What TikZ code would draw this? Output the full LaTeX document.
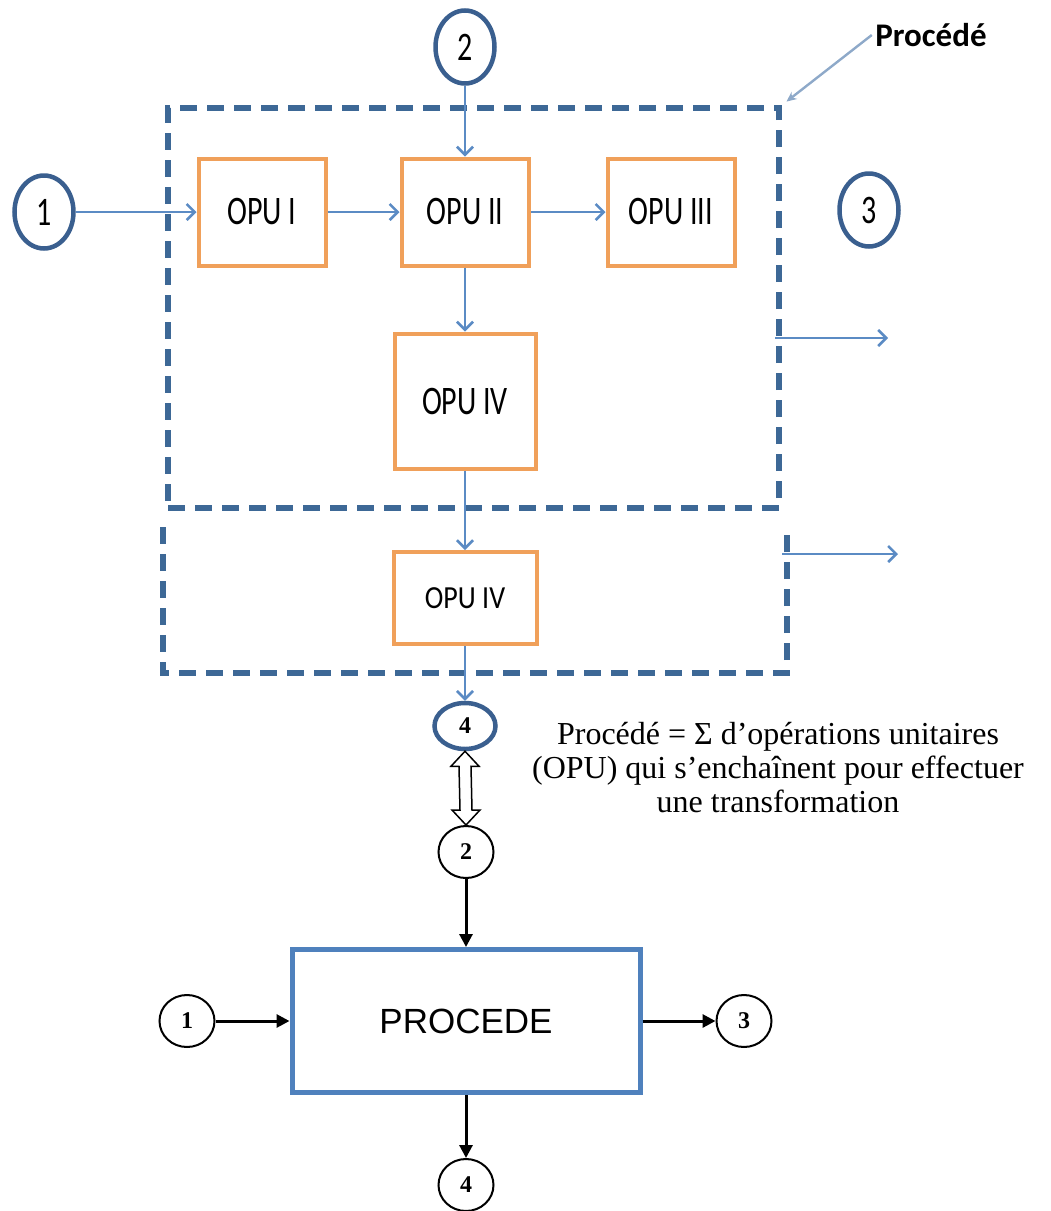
\documentclass[tikz,border=0pt]{standalone}
\usepackage{fontspec}
\usepackage{graphicx}
\setmainfont{Liberation Serif}
\newfontfamily\opufont{Carlito}
\newfontfamily\procfont{Liberation Sans}
\usetikzlibrary{arrows.meta,shapes.geometric,calc}

\definecolor{dashblue}{HTML}{3D6896}
\definecolor{ringblue}{HTML}{3A5F8F}
\definecolor{opuorange}{HTML}{F0A05A}
\definecolor{procblue}{HTML}{4F81BD}
\definecolor{flowblue}{HTML}{5B8BC4}
\definecolor{callgray}{HTML}{8EA9C9}

\newcommand{\opulbl}[1]{\scalebox{1}[1.35]{#1}}

\begin{document}
\begin{tikzpicture}[x=1pt,y=-1pt,
  opubox/.style={draw=opuorange, line width=4pt, minimum width=127pt, minimum height=107pt, inner sep=0pt, font=\opufont\fontsize{30}{36}\selectfont},
  ring/.style={draw=ringblue, line width=4.5pt, ellipse, minimum width=59pt, minimum height=73pt, inner sep=0pt, font=\opufont\fontsize{30}{36}\selectfont},
  bring/.style={draw, line width=2pt, ellipse, minimum width=55pt, minimum height=52pt, inner sep=0pt, font=\bfseries\fontsize{24}{28}\selectfont},
  zone/.style={draw=dashblue, line width=5.5pt, dash pattern=on 17pt off 10pt},
  flow/.style={draw=flowblue, line width=2.6pt, -{Straight Barb[length=8pt,width=16pt]}},
  blk/.style={draw, line width=3pt, -{Triangle[length=13pt,width=13pt]}}]
\useasboundingbox (0,0) rectangle (1051,1211);

% upper part: the process split into unit operations
\node[zone, minimum width=611pt, minimum height=400pt, inner sep=0pt] (zone1) at (473.5,308) {};
\path[zone] (163,527) -- (163,673) -- (787,673) -- (787,527);

\node[ring] (c1) at (44,212) {\opulbl{1}};
\node[ring] (c2) at (465,47) {\opulbl{2}};
\node[ring] (c3) at (869,210) {\opulbl{3}};

\node[opubox] (o1) at (262,212) {\opulbl{OPU I}};
\node[opubox] (o2) at (465,212) {\opulbl{OPU II}};
\node[opubox] (o3) at (671,212) {\opulbl{OPU III}};
\node[opubox, minimum width=141pt, minimum height=135pt] (o4) at (465,401) {\opulbl{OPU IV}};
\node[opubox, minimum width=143pt, minimum height=92pt, font=\opufont\fontsize{28}{34}\selectfont] (o4b) at (465,598) {\scalebox{1}[1.15]{OPU IV}};

\node[ring, minimum width=61pt, minimum height=46pt, font=\bfseries\fontsize{24}{28}\selectfont] (c4) at (465,726) {4};

\draw[flow] (c1) -- (o1);
\draw[flow] (o1) -- (o2);
\draw[flow] (o2) -- (o3);
\draw[flow] (c2) -- (o2);
\draw[flow] (o2) -- (o4);
\draw[flow] (o4) -- (o4b);
\draw[flow] (o4b) -- (c4);

\coordinate (s1) at (775,338);
\coordinate (e1) at (888,338);
\coordinate (s2) at (782,554);
\coordinate (e2) at (898,554);
\draw[flow] (s1) -- (e1);
\draw[flow] (s2) -- (e2);

\node[font=\opufont\bfseries\fontsize{33}{38}\selectfont] (lbl) at (931,35) {Procédé};
\draw[callgray, line width=2.4pt, -{Stealth[length=10pt,width=9pt]}, shorten >=6pt] (lbl.west) -- (zone1.north east);

% lower part: the process as one block
\node[bring] (p2) at (466,852) {2};
\coordinate (dtop) at (c4.south);
\coordinate (dbot) at (p2.north);
\draw[line width=1.5pt, fill=white] (dtop) -- ++(14,15) -- ++(-8,0) -- ($(dbot)+(6,-15)$) -- ++(8,0)
  -- (dbot) -- ++(-14,-15) -- ++(8,0) -- ($(dtop)+(-6,15)$) -- ++(-8,0) -- cycle;

\node[draw=procblue, line width=5pt, minimum width=348pt, minimum height=143pt, font=\procfont\fontsize{35}{40}\selectfont] (proc) at (466,1021) {PROCEDE};
\node[bring] (p1) at (187,1021) {1};
\node[bring] (p3) at (744,1021) {3};
\node[bring] (p4) at (466,1185) {4};

\draw[blk] (p2) -- (proc);
\draw[blk] (p1) -- (proc);
\draw[blk] (proc) -- (p3);
\draw[blk] (proc) -- (p4);

\node[align=center, font=\fontsize{32}{34}\selectfont] (txt) at (778,768) {Procédé = Σ d’opérations unitaires\\(OPU) qui s’enchaînent pour effectuer\\une transformation};
\end{tikzpicture}
\end{document}
